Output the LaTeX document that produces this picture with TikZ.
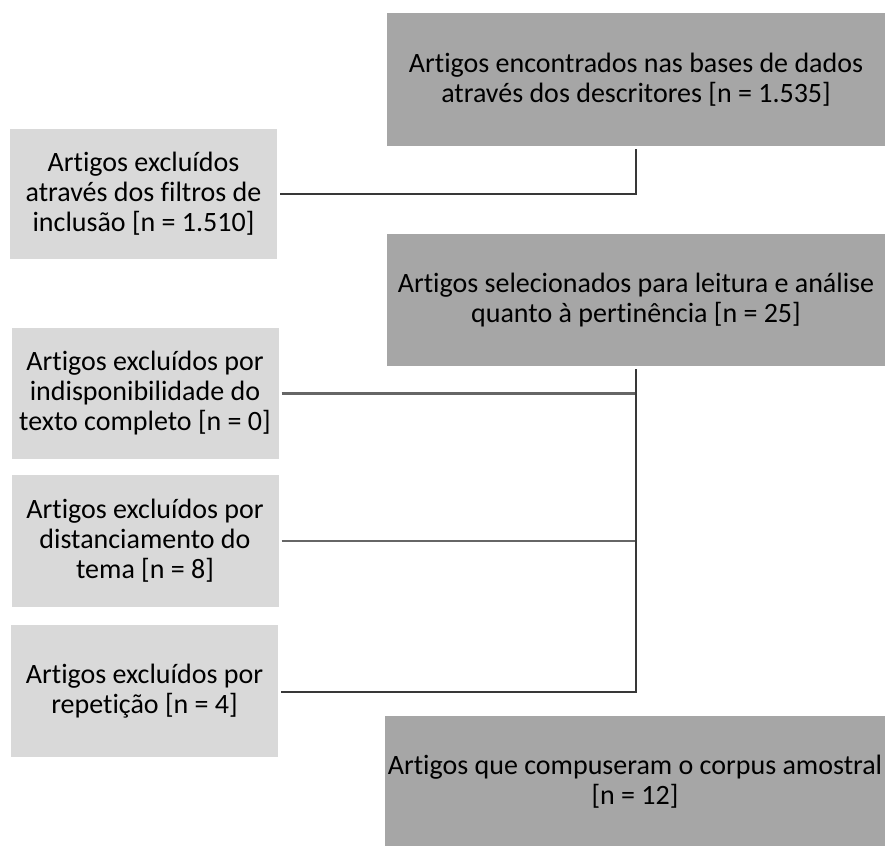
\documentclass[tikz,border=0pt]{standalone}
\usepackage{fontspec}
\setmainfont{Carlito}[Ligatures={NoCommon,NoRequired,NoContextual}]
\usetikzlibrary{calc}

\begin{document}
\begin{tikzpicture}[x=1pt,y=-1pt,inner sep=0,outer sep=0,
    txt/.style={align=center,font=\fontsize{28}{30}\selectfont},
    dark/.style={txt,fill=black!35,minimum width=498pt,minimum height=133pt},
    light/.style={txt,fill=black!15,minimum width=267pt,minimum height=131pt},
    link/.style={draw=black!78,line width=2pt,shorten <=3pt,shorten >=3pt},
    branch/.style={draw=black!60,line width=2.5pt,shorten <=3pt}]

    % Page
    \useasboundingbox (0,0) rectangle (885,845);

    % Main stages
    \node[dark] (enc) at (636,80) {Artigos encontrados nas bases de dados\\através dos descritores [n = 1.535]};
    \node[dark,minimum height=132pt] (sel) at (636,300) {Artigos selecionados para leitura e análise\\quanto à pertinência [n = 25]};
    \node[dark,minimum width=500pt,minimum height=132pt] (corpus) at (635,782) {Artigos que compuseram o corpus amostral\\{}[n = 12]};

    % Exclusions
    \node[light,minimum height=130pt] (exc1) at (143.5,194) {Artigos excluídos\\através dos filtros de\\inclusão [n = 1.510]};
    \node[light] (exc2) at (145,393.5) {Artigos excluídos por\\indisponibilidade do\\texto completo [n = 0]};
    \node[light,minimum height=132pt] (exc3) at (145,541) {Artigos excluídos por\\distanciamento do\\tema [n = 8]};
    \node[light,minimum height=132pt] (exc4) at (144.5,691) {Artigos excluídos por\\repetição [n = 4]};

    % Connectors
    \draw[link] (exc1.east) -- (exc1.east -| enc.south) -- (enc.south);
    \draw[branch] (exc2.east) -- (exc2.east -| sel.south);
    \draw[branch] (exc3.east) -- (exc3.east -| sel.south);
    \draw[link] (sel.south) -- ($(sel.south |- exc4.east)+(0,1)$) -- ($(exc4.east)+(0,1)$);

\end{tikzpicture}
\end{document}
